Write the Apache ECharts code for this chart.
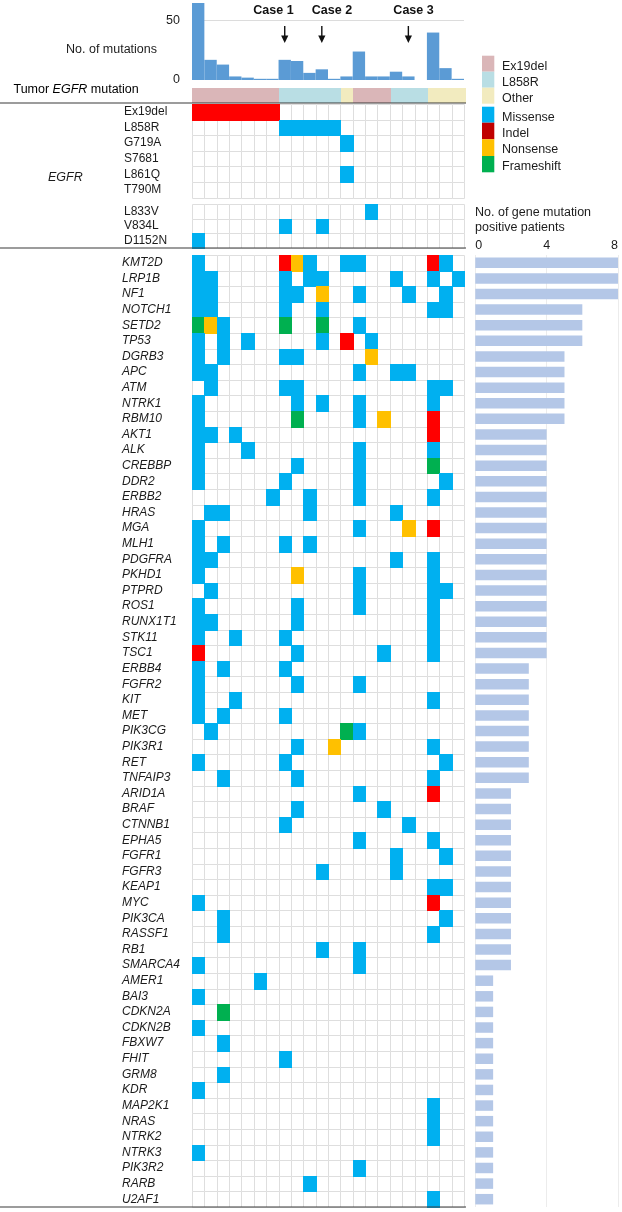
<!DOCTYPE html>
<html><head><meta charset="utf-8">
<script src="https://cdn.jsdelivr.net/npm/echarts@6/dist/echarts.min.js"></script>
<style>html,body{margin:0;padding:0;background:#fff}#c{width:622px;height:1212px}</style>
</head><body><div id="c"></div>
<script>
// ---------------- DATA ----------------
const patients = ['P1','P2','P3','P4','P5','P6','P7','P8','P9','P10','P11','P12','P13','P14','P15','P16','P17','P18','P19','P20','P21','P22'];
const mutationCounts = [65, 17, 13, 3, 2, 1, 1, 17, 16, 6, 9, 1, 3, 24, 3, 3, 7, 3, 0, 40, 10, 1];
const tumorEgfr = ['Ex19del','Ex19del','Ex19del','Ex19del','Ex19del','Ex19del','Ex19del',
  'L858R','L858R','L858R','L858R','L858R','Other','Ex19del','Ex19del','Ex19del',
  'L858R','L858R','L858R','Other','Other','Other'];
const egfrTypes = ['Ex19del', 'L858R', 'Other'];
const mutationTypes = ['Missense', 'Indel', 'Nonsense', 'Frameshift'];
const caseColumns = [7, 10, 17];
const caseLabels = ['Case 1', 'Case 2', 'Case 3'];

// hits: "<column><type>" with M=Missense, I=Indel, N=Nonsense, F=Frameshift
const egfrSitesMain = ['Ex19del', 'L858R', 'G719A', 'S7681', 'L861Q', 'T790M'];
const egfrSitesMainHits = ['0I 1I 2I 3I 4I 5I 6I', '7M 8M 9M 10M 11M', '12M', '', '12M', ''];
const egfrSitesOther = ['L833V', 'V834L', 'D1152N'];
const egfrSitesOtherHits = ['14M', '7M 10M', '0M'];

const genes = ['KMT2D','LRP1B','NF1','NOTCH1','SETD2','TP53','DGRB3','APC','ATM','NTRK1','RBM10',
  'AKT1','ALK','CREBBP','DDR2','ERBB2','HRAS','MGA','MLH1','PDGFRA','PKHD1','PTPRD','ROS1','RUNX1T1','STK11','TSC1',
  'ERBB4','FGFR2','KIT','MET','PIK3CG','PIK3R1','RET','TNFAIP3',
  'ARID1A','BRAF','CTNNB1','EPHA5','FGFR1','FGFR3','KEAP1','MYC','PIK3CA','RASSF1','RB1','SMARCA4',
  'AMER1','BAI3','CDKN2A','CDKN2B','FBXW7','FHIT','GRM8','KDR','MAP2K1','NRAS','NTRK2','NTRK3','PIK3R2','RARB','U2AF1'];
const geneHits = [
  '0M 7I 8N 9M 12M 13M 19I 20M',
  '0M 1M 7M 9M 10M 16M 19M 21M',
  '0M 1M 7M 8M 10N 13M 17M 20M',
  '0M 1M 7M 10M 19M 20M',
  '0F 1N 2M 7F 10F 13M',
  '0M 2M 4M 10M 12I 14M',
  '0M 2M 7M 8M 14N',
  '0M 1M 13M 16M 17M',
  '1M 7M 8M 19M 20M',
  '0M 8M 10M 13M 19M',
  '0M 8F 13M 15N 19I',
  '0M 1M 3M 19I',
  '0M 4M 13M 19M',
  '0M 8M 13M 19F',
  '0M 7M 13M 20M',
  '6M 9M 13M 19M',
  '1M 2M 9M 16M',
  '0M 13M 17N 19I',
  '0M 2M 7M 9M',
  '0M 1M 16M 19M',
  '0M 8N 13M 19M',
  '1M 13M 19M 20M',
  '0M 8M 13M 19M',
  '0M 1M 8M 19M',
  '0M 3M 7M 19M',
  '0I 8M 15M 19M',
  '0M 2M 7M',
  '0M 8M 13M',
  '0M 3M 19M',
  '0M 2M 7M',
  '1M 12F 13M',
  '8M 11N 19M',
  '0M 7M 20M',
  '2M 8M 19M',
  '13M 19I',
  '8M 15M',
  '7M 17M',
  '13M 19M',
  '16M 20M',
  '10M 16M',
  '19M 20M',
  '0M 19I',
  '2M 20M',
  '2M 19M',
  '10M 13M',
  '0M 13M',
  '5M',
  '0M',
  '2F',
  '0M',
  '2M',
  '7M',
  '2M',
  '0M',
  '19M',
  '19M',
  '19M',
  '0M',
  '13M',
  '9M',
  '19M'
];
const genePositiveCounts = [8,8,8,6,6,6,5,5,5,5,5,
  4,4,4,4,4,4,4,4,4,4,4,4,4,4,4,
  3,3,3,3,3,3,3,3,
  2,2,2,2,2,2,2,2,2,2,2,2,
  1,1,1,1,1,1,1,1,1,1,1,1,1,1,1];
const barTicks = [0, 50];

// ---------------- STYLE ----------------
const FONT = "'Liberation Sans', Arial, Helvetica, sans-serif";
const TXT = '#1c1c1c';
const cellColors = ['#00b0f0', '#ff0000', '#ffc000', '#00b050'];
const legendMutColors = ['#00b0f0', '#c00000', '#ffc000', '#00b050'];
const egfrColors = ['#dab6b8', '#b9dee4', '#f2ebbf'];
const GRIDLINE = '#dedede';
const HX = 192, HW = 272;

function parseHits(rows) {
  const out = [];
  rows.forEach((s, r) => {
    if (!s) return;
    s.split(' ').forEach(tok => {
      out.push([parseInt(tok, 10), r, 'MINF'.indexOf(tok.slice(-1))]);
    });
  });
  return out;
}
function allCells(nRows) {
  const out = [];
  for (let r = 0; r < nRows; r++) for (let c = 0; c < patients.length; c++) out.push([c, r]);
  return out;
}
// empty cell frame (crisp 1px lines)
function frameRender(params, api) {
  const c = api.coord([api.value(0), api.value(1)]);
  const s = api.size([1, 1]);
  const x0 = Math.round(c[0] - s[0] / 2) + 0.5, x1 = Math.round(c[0] + s[0] / 2) + 0.5;
  const y0 = Math.round(c[1] - s[1] / 2) + 0.5, y1 = Math.round(c[1] + s[1] / 2) + 0.5;
  return { type: 'rect', shape: { x: x0, y: y0, width: x1 - x0, height: y1 - y0 },
    style: { fill: '#fff', stroke: GRIDLINE, lineWidth: 1 } };
}
function cellRender(colors) {
  return function (params, api) {
    const c = api.coord([api.value(0), api.value(1)]);
    const s = api.size([1, 1]);
    const x0 = Math.round(c[0] - s[0] / 2), x1 = Math.round(c[0] + s[0] / 2) + 1;
    const y0 = Math.round(c[1] - s[1] / 2), y1 = Math.round(c[1] + s[1] / 2) + 1;
    return { type: 'rect', shape: { x: x0, y: y0, width: x1 - x0, height: y1 - y0 },
      style: { fill: colors[api.value(2)] } };
  };
}
function catX(gridIndex) {
  return {
    type: 'category', gridIndex, data: patients,
    axisLine: { show: false }, axisTick: { show: false }, axisLabel: { show: false }, splitLine: { show: false }
  };
}
function catY(gridIndex, data, labelOpts) {
  return {
    type: 'category', gridIndex, data, inverse: true,
    axisLine: { show: false }, axisTick: { show: false }, splitLine: { show: false },
    axisLabel: Object.assign({ show: true, interval: 0, align: 'left', fontFamily: FONT, fontSize: 12, color: TXT }, labelOpts)
  };
}

const chart = echarts.init(document.getElementById('c'), null, { renderer: 'canvas' });

const option = {
  animation: false,
  backgroundColor: '#fff',
  textStyle: { fontFamily: FONT },
  grid: [
    { left: HX, width: HW, top: 1.7, height: 78.3 },                  // 0 mutation count bars
    { left: HX, width: HW + 1, top: 87.5, height: 14 },                 // 1 tumor EGFR strip
    { left: HX, width: HW, top: 104, height: 93.6 },                    // 2 EGFR sites
    { left: HX, width: HW, top: 204.3, height: 43.4 },                  // 3 EGFR other sites
    { left: HX, width: HW, top: 255, height: 952 },                     // 4 genes
    { left: 475.3, width: 142.7, top: 255, height: 952 }                // 5 positive patients
  ],
  xAxis: [
    catX(0), catX(1), catX(2), catX(3), catX(4),
    {
      type: 'value', gridIndex: 5, min: 0, max: 8, interval: 4, position: 'top',
      axisLine: { show: false }, axisTick: { show: false },
      axisLabel: { margin: 3, fontFamily: FONT, fontSize: 12.5, color: TXT, alignMinLabel: 'left', alignMaxLabel: 'right' },
      splitLine: { show: true, lineStyle: { color: '#ececec', width: 1 } }
    }
  ],
  yAxis: [
    {
      type: 'value', gridIndex: 0, min: 0, max: 66, interval: 50,
      axisLine: { show: false }, axisTick: { show: false },
      splitLine: { show: true, showMinLine: false, showMaxLine: false, lineStyle: { color: '#dcdcdc', width: 1 } },
      axisLabel: { margin: 12, fontFamily: FONT, fontSize: 12.5, color: TXT,
        formatter: v => (barTicks.indexOf(v) >= 0 ? String(v) : '') }
    },
    catY(1, ['Tumor EGFR'], { show: false }),
    catY(2, egfrSitesMain, { margin: 68 }),
    catY(3, egfrSitesOther, { margin: 68 }),
    catY(4, genes, { margin: 70, fontStyle: 'italic' }),
    catY(5, genes, { show: false })
  ],
  series: [
    { type: 'bar', xAxisIndex: 0, yAxisIndex: 0, data: mutationCounts,
      barCategoryGap: '0%', itemStyle: { color: '#5b9bd5' } },
    { type: 'custom', xAxisIndex: 1, yAxisIndex: 1,
      data: tumorEgfr.map((t, i) => [i, 0, egfrTypes.indexOf(t)]),
      renderItem: cellRender(egfrColors) },
    { type: 'custom', xAxisIndex: 2, yAxisIndex: 2, data: allCells(egfrSitesMain.length), renderItem: frameRender },
    { type: 'custom', xAxisIndex: 2, yAxisIndex: 2, data: parseHits(egfrSitesMainHits), renderItem: cellRender(cellColors) },
    { type: 'custom', xAxisIndex: 3, yAxisIndex: 3, data: allCells(egfrSitesOther.length), renderItem: frameRender },
    { type: 'custom', xAxisIndex: 3, yAxisIndex: 3, data: parseHits(egfrSitesOtherHits), renderItem: cellRender(cellColors) },
    { type: 'custom', xAxisIndex: 4, yAxisIndex: 4, data: allCells(genes.length), renderItem: frameRender },
    { type: 'custom', xAxisIndex: 4, yAxisIndex: 4, data: parseHits(geneHits), renderItem: cellRender(cellColors) },
    { type: 'bar', xAxisIndex: 5, yAxisIndex: 5, data: genePositiveCounts,
      barWidth: 10.5, itemStyle: { color: '#b4c7e7' } }
  ]
};
chart.setOption(option);

// ---------------- ANNOTATIONS ----------------
const g = [];
const caseTextOffset = [-31.4, -10, -15];
caseColumns.forEach((col, i) => {
  const x = chart.convertToPixel({ xAxisIndex: 0 }, patients[col]);
  g.push({ type: 'text', z: 10, x: x + caseTextOffset[i], y: 11,
    style: { text: caseLabels[i], font: 'bold 12.5px ' + FONT, fill: '#111', textAlign: 'left', textVerticalAlign: 'middle' } });
  g.push({ type: 'line', z: 10, shape: { x1: x, y1: 26, x2: x, y2: 38 }, style: { stroke: '#111', lineWidth: 1.4 } });
  g.push({ type: 'polygon', z: 10, shape: { points: [[x - 3.6, 35.5], [x + 3.6, 35.5], [x, 43]] }, style: { fill: '#111' } });
});

g.push({ type: 'text', x: 66, y: 50, style: { text: 'No. of mutations', font: '12.5px ' + FONT, fill: TXT, textVerticalAlign: 'middle' } });
g.push({ type: 'text', x: 13.5, y: 90, style: {
  text: '{n|Tumor }{i|EGFR}{n| mutation}', textVerticalAlign: 'middle',
  rich: { n: { fontFamily: FONT, fontSize: 12.5, color: TXT }, i: { fontFamily: FONT, fontSize: 12.5, fontStyle: 'italic', color: TXT } }
} });
g.push({ type: 'text', x: 48, y: 178, style: { text: 'EGFR', font: 'italic 12.5px ' + FONT, fill: TXT, textVerticalAlign: 'middle' } });

[103, 248, 1207].forEach(y => {
  g.push({ type: 'line', z: 5, shape: { x1: 0, y1: y, x2: 466, y2: y }, style: { stroke: '#3a3a3a', lineWidth: 1.2 } });
});

const legTop = [55.7, 71.7, 87.7];
egfrTypes.forEach((t, i) => {
  g.push({ type: 'rect', shape: { x: 482, y: legTop[i], width: 12.3, height: 16 }, style: { fill: egfrColors[i] } });
  g.push({ type: 'text', x: 502, y: legTop[i] + 10.5, style: { text: t, font: '12.5px ' + FONT, fill: TXT, textVerticalAlign: 'middle' } });
});
const mutTop = [106.7, 122.7, 139.3, 156];
const mutH = [16, 16.6, 16.7, 16.3];
mutationTypes.forEach((t, i) => {
  g.push({ type: 'rect', shape: { x: 482, y: mutTop[i], width: 12.3, height: mutH[i] }, style: { fill: legendMutColors[i] } });
  g.push({ type: 'text', x: 502, y: mutTop[i] + 10.5, style: { text: t, font: '12.5px ' + FONT, fill: TXT, textVerticalAlign: 'middle' } });
});

g.push({ type: 'text', x: 475, y: 213, style: { text: 'No. of gene mutation', font: '12.5px ' + FONT, fill: TXT, textVerticalAlign: 'middle' } });
g.push({ type: 'text', x: 475, y: 228, style: { text: 'positive patients', font: '12.5px ' + FONT, fill: TXT, textVerticalAlign: 'middle' } });

chart.setOption({ graphic: g });
</script>
</body></html>
